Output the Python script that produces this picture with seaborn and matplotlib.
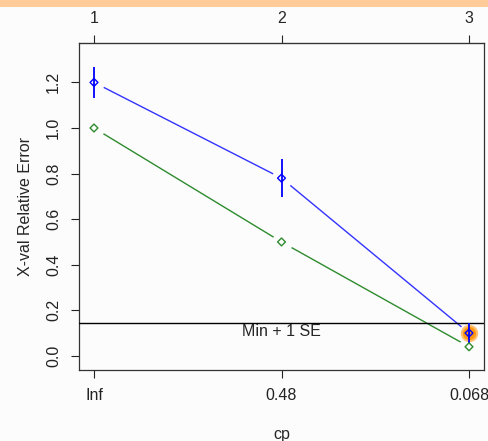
import matplotlib
matplotlib.use("Agg")
import matplotlib.pyplot as plt
import seaborn as sns
import pandas as pd
from matplotlib.patches import Rectangle

# cp table values
tree_size = [1, 2, 3]
cp_labels = ["Inf", "0.48", "0.068"]
xerror = [1.20, 0.78, 0.10]
xstd = [0.068, 0.085, 0.043]
rel_error = [1.00, 0.50, 0.04]
y_ticks = [0.0, 0.2, 0.4, 0.6, 0.8, 1.0, 1.2]

df = pd.DataFrame({"pos": tree_size, "xerror": xerror, "xstd": xstd, "rel": rel_error})
min_se = min(xerror) + xstd[xerror.index(min(xerror))]

sns.set_style("ticks")
plt.rcParams["font.family"] = ["Liberation Sans", "DejaVu Sans"]
bg = "#fcfcfc"
fs = 11.5

fig = plt.figure(figsize=(4.88, 4.41), dpi=100, facecolor=bg)
fig.patches.append(Rectangle((0, 1 - 7 / 441), 1, 7 / 441, transform=fig.transFigure,
                             facecolor="#ffcc99", edgecolor="none", zorder=0))
ax = fig.add_axes([79 / 488, 1 - 370 / 441, 405 / 488, 327 / 441])
ax.set_facecolor(bg)

# connecting lines (type = "b": gaps around the points)
sns.lineplot(data=df, x="pos", y="xerror", color="#3333ff", lw=1, ax=ax, zorder=2)
sns.lineplot(data=df, x="pos", y="rel", color="#2e8b2e", lw=1, ax=ax, zorder=2)
for col in ["xerror", "rel"]:
    ax.plot(df["pos"], df[col], ls="none", marker="o", ms=15, mfc=bg, mec="none", zorder=3)

# min + 1 SE line
ax.axhline(min_se, color="black", lw=1, zorder=4)
ax.text(2, min_se - 0.004, "Min + 1 SE", ha="center", va="top", fontsize=fs, zorder=5)

# chosen tree highlight
best = xerror.index(min(xerror))
ax.plot(df["pos"][best], xerror[best], ls="none", marker="o", ms=11,
        color="#ff9a10", mec="#ffbf70", mew=1.5, zorder=5)

# error bars and points
ax.vlines(df["pos"], df["xerror"] - df["xstd"], df["xerror"] + df["xstd"],
          color="#0000ff", lw=1.3, zorder=6)
sns.scatterplot(data=df, x="pos", y="xerror", marker="D", s=16, facecolor="none",
                edgecolor="#0000ff", linewidth=1, ax=ax, zorder=7)
sns.scatterplot(data=df, x="pos", y="rel", marker="D", s=16, facecolor="none",
                edgecolor="#2e8b2e", linewidth=1, ax=ax, zorder=7)

ax.set_xlim(0.92, 3.08)
ax.set_ylim(-0.062, 1.373)
ax.set_xticks(tree_size)
ax.set_xticklabels(cp_labels)
ax.set_yticks(y_ticks)
ax.set_yticklabels([f"{v:.1f}" for v in y_ticks], rotation=90, va="center")
ax.tick_params(length=6, width=0.8, labelsize=fs, colors="#222222", pad=7)
ax.set_xlabel("cp", fontsize=fs, labelpad=17)
ax.set_ylabel("X-val Relative Error", fontsize=fs, labelpad=9)
for s in ax.spines.values():
    s.set_visible(True)
    s.set_linewidth(0.9)
    s.set_color("#333333")

top = ax.secondary_xaxis("top")
top.set_xticks(tree_size)
top.set_xticklabels([str(t) for t in tree_size])
top.tick_params(length=6, width=0.8, labelsize=fs, pad=6)

fig.savefig("out.png", dpi=100, facecolor=bg)
